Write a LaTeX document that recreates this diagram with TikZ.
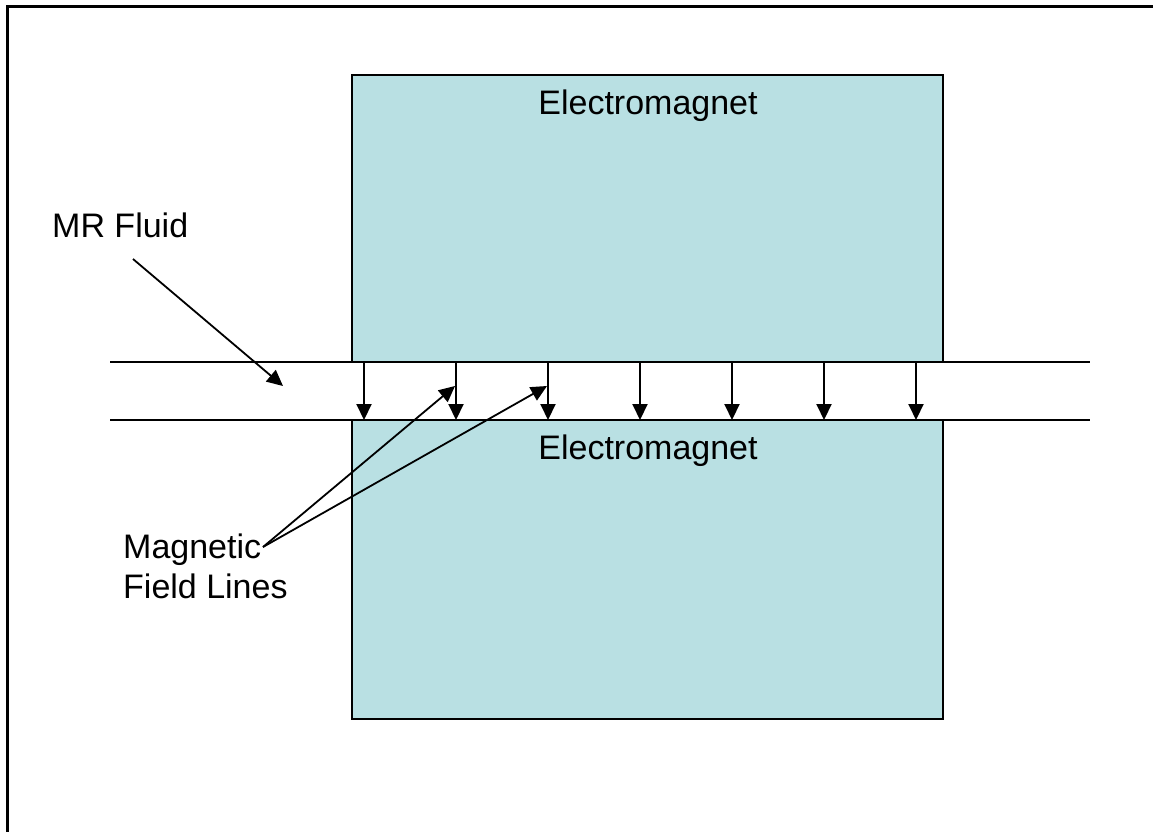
\documentclass[tikz,border=0pt]{standalone}
\usepackage{fontspec}
\setmainfont{Liberation Sans}
\usetikzlibrary{arrows.meta}
\definecolor{magfill}{RGB}{185,224,227}
\tikzset{
  magnet/.style={draw=black, line width=2.2pt, fill=magfill},
  lbl/.style={font=\fontsize{34}{40}\selectfont, inner sep=0pt},
  fieldarrow/.style={line width=2pt, -{Triangle[length=16pt,width=15pt]}},
  pointer/.style={line width=1.8pt, -{Triangle[length=16pt,width=15pt]}},
  wall/.style={line width=2pt}
}
\begin{document}
\begin{tikzpicture}[x=1pt,y=-1pt]
\useasboundingbox (0,0) rectangle (1153,831);
\clip (0,0) rectangle (1153,831);
\draw[line width=3pt] (7,6) rectangle (1170,850);
% electromagnets
\draw[magnet] (352,75) rectangle (943,362);
\draw[magnet] (352,420) rectangle (943,719);
\node[lbl] (topmag) at (648,106) {Electromagnet};
\node[lbl] (botmag) at (648,451) {Electromagnet};
% fluid channel walls
\coordinate (wl1) at (110,362); \coordinate (wr1) at (1090,362);
\coordinate (wl2) at (110,420); \coordinate (wr2) at (1090,420);
\draw[wall] (wl1) -- (wr1);
\draw[wall] (wl2) -- (wr2);
% field lines
\foreach \i/\x in {1/364,2/456,3/548,4/640,5/732,6/824,7/916}{
  \coordinate (fa\i) at (\x,362);
  \coordinate (fb\i) at (\x,420);
  \draw[fieldarrow] (fa\i) -- (fb\i);
}
% labels
\node[lbl, anchor=west] (mr) at (52,225) {MR Fluid};
\node[lbl, anchor=north west, align=left] (mfl) at (123,534) {Magnetic\\Field Lines};
\coordinate (mrs) at (133,259);
\coordinate (mrt) at (283,386);
\draw[pointer] (mrs) -- (mrt);
\coordinate (mfs) at (263,547);
\coordinate (mft1) at (455,386);
\coordinate (mft2) at (547,386);
\draw[pointer] (mfs) -- (mft1);
\draw[pointer] (mfs) -- (mft2);
\end{tikzpicture}
\end{document}
